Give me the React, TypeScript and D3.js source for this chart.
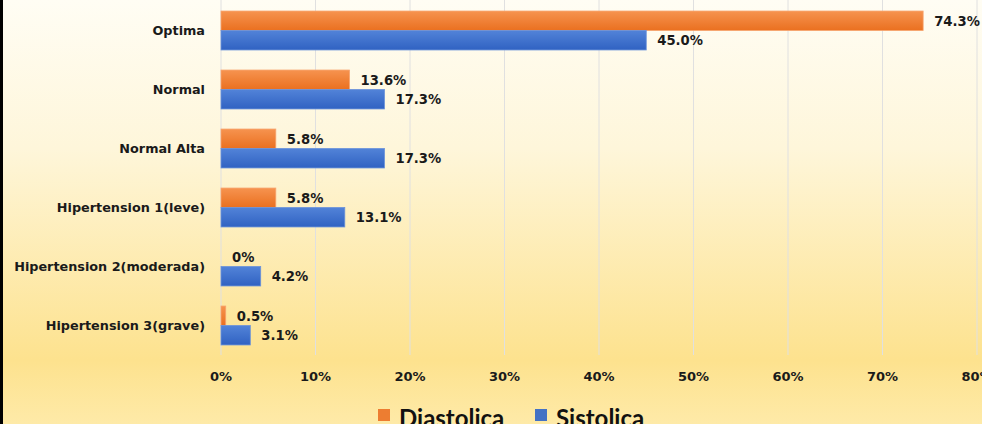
import React from "react";
import * as d3 from "d3";

const categories = [
  "Optima",
  "Normal",
  "Normal Alta",
  "Hipertension 1(leve)",
  "Hipertension 2(moderada)",
  "Hipertension 3(grave)",
];
const diastolica = [74.3, 13.6, 5.8, 5.8, 0, 0.5];
const sistolica = [45.0, 17.3, 17.3, 13.1, 4.2, 3.1];
const seriesNames = ["Diastolica", "Sistolica"];
const xTicks = [0, 10, 20, 30, 40, 50, 60, 70, 80];

const width = 982;
const height = 424;
const colors = ["#ED7D31", "#4472C4"];

const fmt = (v: number) => (v === 0 ? "0%" : v.toFixed(1) + "%");

const App = () => {
  const x = d3.scaleLinear().domain([0, 80]).range([221, 977]);
  const y = d3.scaleBand().domain(categories).range([1, 355]).paddingInner(0.34).paddingOuter(0.17);
  const sub = d3.scaleBand().domain(seriesNames).range([0, y.bandwidth()]);
  const series = [diastolica, sistolica];
  const labelFont = "'DejaVu Sans', Verdana, sans-serif";

  return (
    <svg width={width} height={height} style={{position: "absolute", left: 0, top: 0}}>
      <defs>
        <linearGradient id="bg" x1="0" y1="0" x2="0" y2="1">
          <stop offset="0" stopColor="#FFFDF4"/>
          <stop offset="0.35" stopColor="#FEF6DA"/>
          <stop offset="0.85" stopColor="#FDE28E"/>
          <stop offset="1" stopColor="#FEEAA8"/>
        </linearGradient>
        <linearGradient id="g0" x1="0" y1="0" x2="0" y2="1">
          <stop offset="0" stopColor="#F6934F"/>
          <stop offset="1" stopColor="#EA7020"/>
        </linearGradient>
        <linearGradient id="g1" x1="0" y1="0" x2="0" y2="1">
          <stop offset="0" stopColor="#5283D8"/>
          <stop offset="1" stopColor="#3062C2"/>
        </linearGradient>
      </defs>
      <rect x={0} y={0} width={width} height={height} fill="url(#bg)"/>
      <rect x={0} y={0} width={3} height={height} fill="#000"/>

      {xTicks.map(t => (
        <g key={t}>
          <line x1={x(t)} x2={x(t)} y1={0} y2={355} stroke="#E0E0E0" strokeWidth={1}/>
          <text x={x(t)} y={381} textAnchor="middle" fontFamily={labelFont} fontWeight="bold" fontSize={13} fill="#1a1a1a">
            {t + "%"}
          </text>
        </g>
      ))}

      {categories.map((c, i) => (
        <g key={c}>
          <text x={205} y={(y(c) as number) + y.bandwidth() / 2 + 4.5} textAnchor="end" fontFamily={labelFont}
                fontWeight="bold" fontSize={12.8} fill="#1a1a1a">{c}</text>
          {series.map((s, k) => {
            const by = (y(c) as number) + (sub(seriesNames[k]) as number);
            const w = x(s[i]) - x(0);
            return (
              <g key={k}>
                {w > 0 && (
                  <rect x={x(0)} y={by} width={w} height={sub.bandwidth()} fill={`url(#g${k})`}
                        stroke={k === 0 ? "#F7A46E" : "#6A92DA"} strokeWidth={0.8}/>
                )}
                <text x={x(s[i]) + 11} y={by + sub.bandwidth() / 2 + 5} fontFamily={labelFont} fontWeight="bold"
                      fontSize={13.2} fill="#1a1a1a">{fmt(s[i])}</text>
              </g>
            );
          })}
        </g>
      ))}

      {seriesNames.map((n, k) => {
        const lx = k === 0 ? 378 : 535;
        return (
          <g key={n}>
            <rect x={lx} y={409} width={12} height={12} fill={colors[k]}/>
            <text x={lx + 21} y={427} fontFamily="Lato, 'Open Sans', sans-serif" fontWeight="bold" fontSize={24} fill="#111">{n}</text>
          </g>
        );
      })}
    </svg>
  );
};

export default App;
